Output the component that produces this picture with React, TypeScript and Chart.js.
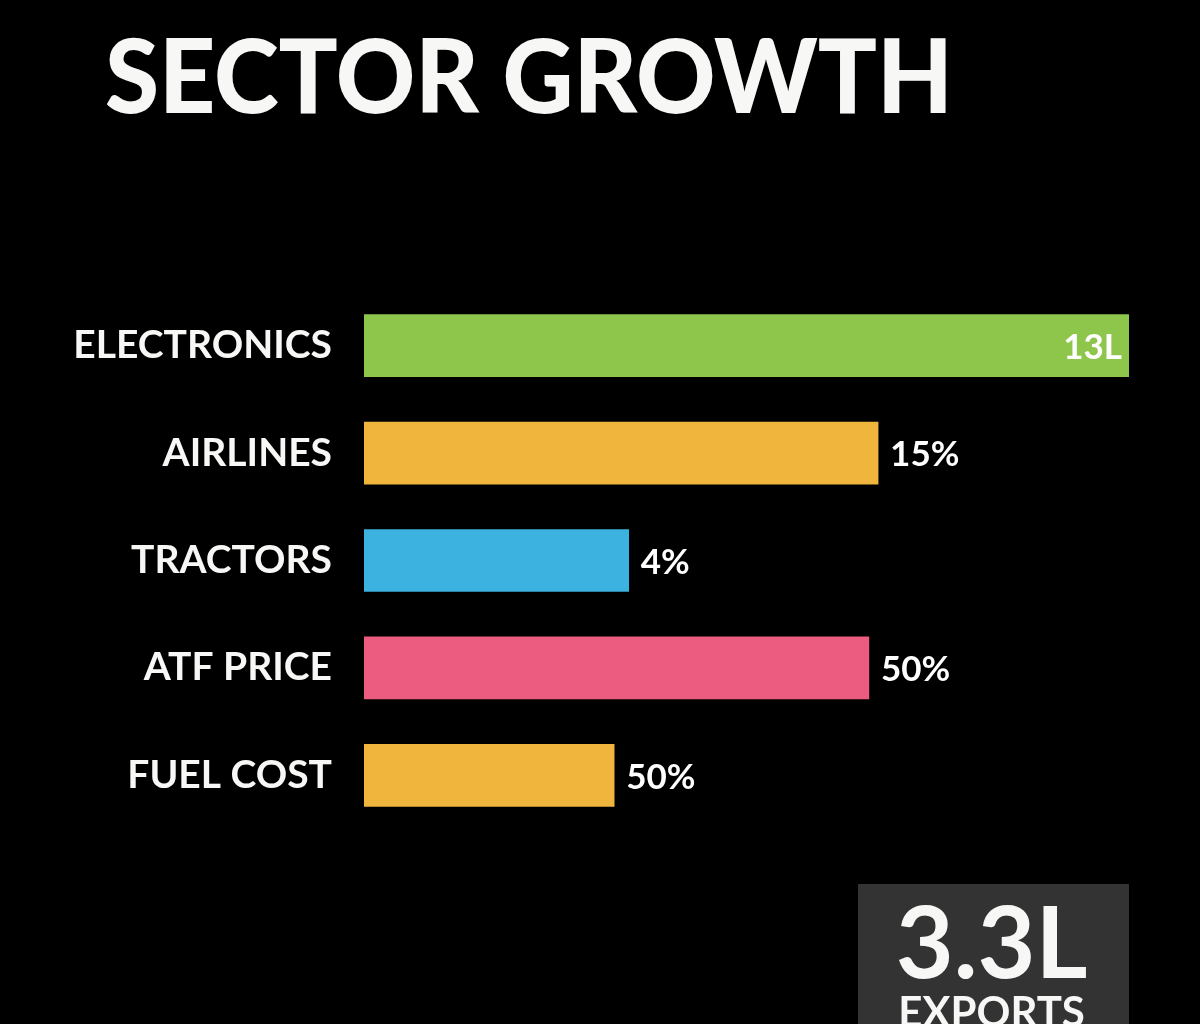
import React, { useEffect, useRef } from "react";
import { Chart, registerables } from "chart.js";

Chart.register(...registerables);

const TITLE = "SECTOR GROWTH";
const categories = ["ELECTRONICS", "AIRLINES", "TRACTORS", "ATF PRICE", "FUEL COST"];
const barLengths = [100, 67.2, 34.6, 66.0, 32.7];
const valueLabels = ["13L", "15%", "4%", "50%", "50%"];
const barColors = ["#8EC54B", "#F0B53D", "#3BB2E0", "#EC5B80", "#F0B53D"];
const calloutValue = "3.3L";
const calloutLabel = "EXPORTS";

const FONT = "Lato, 'Open Sans', sans-serif";

const backgroundPlugin = {
  id: "bg",
  beforeDraw(chart: any) {
    const { ctx, width, height } = chart;
    ctx.save();
    ctx.fillStyle = "#000000";
    ctx.fillRect(0, 0, width, height);
    ctx.restore();
  },
};

const titlePlugin = {
  id: "bigTitle",
  afterDraw(chart: any) {
    const { ctx } = chart;
    ctx.save();
    ctx.fillStyle = "#F7F7F5";
    ctx.font = `900 103px ${FONT}`;
    ctx.textAlign = "left";
    ctx.textBaseline = "alphabetic";
    ctx.fillText(TITLE, 105, 113, 848);
    ctx.restore();
  },
};

const valueLabelPlugin = {
  id: "valueLabels",
  afterDatasetsDraw(chart: any) {
    const { ctx } = chart;
    const meta = chart.getDatasetMeta(0);
    const xScale = chart.scales.x;
    ctx.save();
    ctx.fillStyle = "#FFFFFF";
    ctx.font = `bold 35px ${FONT}`;
    ctx.textBaseline = "middle";
    meta.data.forEach((bar: any, i: number) => {
      const v = barLengths[i];
      const label = valueLabels[i];
      if (v >= xScale.max) {
        ctx.textAlign = "right";
        ctx.fillText(label, bar.x - 7, bar.y + 2);
      } else {
        ctx.textAlign = "left";
        ctx.fillText(label, bar.x + 12, bar.y + 2);
      }
    });
    ctx.restore();
  },
};

const calloutPlugin = {
  id: "callout",
  afterDraw(chart: any) {
    const { ctx } = chart;
    const right = chart.chartArea.right;
    const left = 858;
    const top = 884;
    ctx.save();
    ctx.fillStyle = "#333333";
    ctx.fillRect(left, top, right - left, chart.height - top);
    const cx = (left + right) / 2 - 2;
    ctx.fillStyle = "#F7F7F5";
    ctx.textAlign = "center";
    ctx.textBaseline = "alphabetic";
    ctx.font = `bold 100px ${FONT}`;
    ctx.fillText(calloutValue, cx, 978);
    ctx.font = `bold 42px ${FONT}`;
    ctx.fillText(calloutLabel, cx, 1027);
    ctx.restore();
  },
};

export default function App() {
  const canvasRef = useRef<HTMLCanvasElement | null>(null);

  useEffect(() => {
    if (!canvasRef.current) return;
    const chart = new Chart(canvasRef.current, {
      type: "bar",
      data: {
        labels: categories,
        datasets: [
          {
            data: barLengths,
            backgroundColor: barColors,
            borderWidth: 0,
            barThickness: 62,
          },
        ],
      },
      options: {
        indexAxis: "y",
        responsive: false,
        animation: false,
        devicePixelRatio: 1,
        layout: { padding: { top: 292, bottom: 195, left: 0, right: 71 } },
        plugins: {
          legend: { display: false },
          title: { display: false },
          tooltip: { enabled: false },
        },
        scales: {
          x: { display: false, min: 0, max: 100 },
          y: {
            display: true,
            grid: { display: false, drawTicks: false },
            border: { display: false },
            ticks: {
              color: "#F7F7F5",
              padding: 32,
              font: { family: FONT, size: 39, weight: "bold" },
            },
            afterFit(scale: any) {
              scale.width = 364;
            },
          },
        },
      },
      plugins: [backgroundPlugin, valueLabelPlugin, titlePlugin, calloutPlugin],
    } as any);
    return () => chart.destroy();
  }, []);

  return (
    <div style={{ position: "fixed", left: 0, top: 0, width: 1200, height: 1024, background: "#000", overflow: "hidden" }}>
      <canvas ref={canvasRef} width={1200} height={1024} style={{ display: "block" }} />
    </div>
  );
}
